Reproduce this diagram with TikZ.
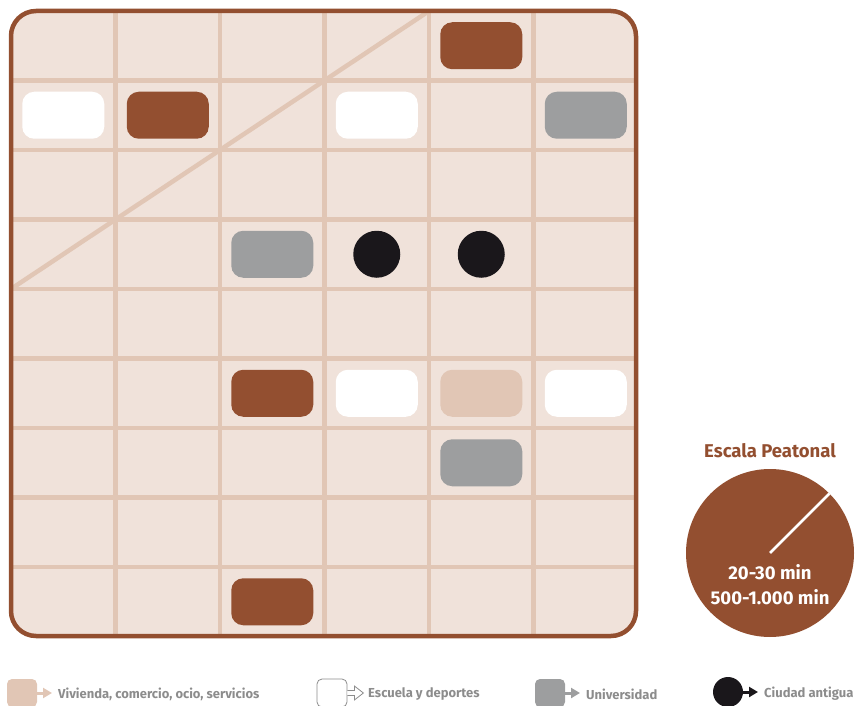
\documentclass[tikz,border=0pt]{standalone}
\usepackage{fontspec}
\setmainfont{Fira Sans}
\usetikzlibrary{arrows.meta}
\definecolor{tierra}{HTML}{934F30}
\definecolor{fondo}{HTML}{F0E2DA}
\definecolor{rejilla}{HTML}{E1C6B5}
\definecolor{gris}{HTML}{9D9E9F}
\definecolor{negro}{HTML}{1A171B}
\definecolor{textogris}{HTML}{8C8C8C}
\newcommand{\celda}[2]{({11+104.5*(#1+0.5)},{11+69.5*(#2+0.5)})}

\begin{document}
\begin{tikzpicture}[x=1pt,y=-1pt,
  bloque/.style={rounded corners=12pt,minimum width=82pt,minimum height=47pt,inner sep=0pt},
  punto/.style={circle,fill=negro,minimum size=47pt,inner sep=0pt},
  muestra/.style={rounded corners=5pt,minimum width=30pt,minimum height=28pt,inner sep=0pt},
  leyenda/.style={anchor=west,text=textogris,font=\bfseries\fontsize{13}{15}\selectfont,inner sep=0pt}]
\useasboundingbox (0,0) rectangle (857,706);
% plano
\begin{scope}
\clip[rounded corners=25pt] (11,11) rectangle (636,636);
\fill[fondo] (11,11) rectangle (636,636);
\foreach \i in {1,...,5} \draw[rejilla,line width=4.5pt] ({11+104.5*\i},0) -- ({11+104.5*\i},650);
\foreach \j in {1,...,8} \draw[rejilla,line width=4.5pt] (0,{11+69.5*\j}) -- (650,{11+69.5*\j});
\draw[rejilla,line width=4.5pt] (11,289) -- (429,11);
\end{scope}
\draw[tierra,line width=4.5pt,rounded corners=25pt] (11,11) rectangle (636,636);
% bloques
\node[bloque,fill=tierra] (b04) at \celda{4}{0} {};
\node[bloque,fill=white] (b10) at \celda{0}{1} {};
\node[bloque,fill=tierra] (b11) at \celda{1}{1} {};
\node[bloque,fill=white] (b13) at \celda{3}{1} {};
\node[bloque,fill=gris] (b15) at \celda{5}{1} {};
\node[bloque,fill=gris] (b32) at \celda{2}{3} {};
\node[punto] (c33) at \celda{3}{3} {};
\node[punto] (c34) at \celda{4}{3} {};
\node[bloque,fill=tierra] (b52) at \celda{2}{5} {};
\node[bloque,fill=white] (b53) at \celda{3}{5} {};
\node[bloque,fill=rejilla] (b54) at \celda{4}{5} {};
\node[bloque,fill=white] (b55) at \celda{5}{5} {};
\node[bloque,fill=gris] (b64) at \celda{4}{6} {};
\node[bloque,fill=tierra] (b82) at \celda{2}{8} {};
% escala
\node[text=tierra,font=\bfseries\fontsize{18.5}{22}\selectfont] (titulo) at (770,451) {Escala Peatonal};
\node[circle,fill=tierra,minimum size=168pt,inner sep=0pt] (escala) at (770,553) {};
\draw[white,line width=2.5pt] (escala.center) -- (escala.45);
\node[text=white,font=\bfseries\fontsize{18.5}{25}\selectfont,align=center,inner sep=0pt] (tiempo) at (770,585) {20-30 min\\500-1.000 min};
% leyenda
\node[muestra,fill=rejilla] (m1) at (22,693) {};
\draw[rejilla,line width=3pt,-{Triangle[length=9pt,width=10pt]}] (m1.east) -- (52,693);
\node[leyenda] (t1) at (58,694) {Vivienda, comercio, ocio, servicios};
\node[muestra,draw=textogris,line width=0.8pt] (m2) at (332,693) {};
\draw[textogris,line width=0.8pt,fill=white] (m2.east) ++(0,-2.5) -- ++(7,0) -- ++(0,-4.5) -- ++(9,7) -- ++(-9,7) -- ++(0,-4.5) -- ++(-7,0);
\node[leyenda] (t2) at (368,694) {Escuela y deportes};
\node[muestra,fill=gris] (m3) at (550,693) {};
\draw[gris,line width=3pt,-{Triangle[length=9pt,width=10pt]}] (m3.east) -- (580,693);
\node[leyenda] (t3) at (586,694) {Universidad};
\node[circle,fill=negro,minimum size=30pt,inner sep=0pt] (m4) at (728,692) {};
\draw[negro,line width=3pt,-{Triangle[length=9pt,width=10pt]}] (m4.east) -- (758,692);
\node[leyenda] (t4) at (764,694) {Ciudad antigua};
\end{tikzpicture}
\end{document}
